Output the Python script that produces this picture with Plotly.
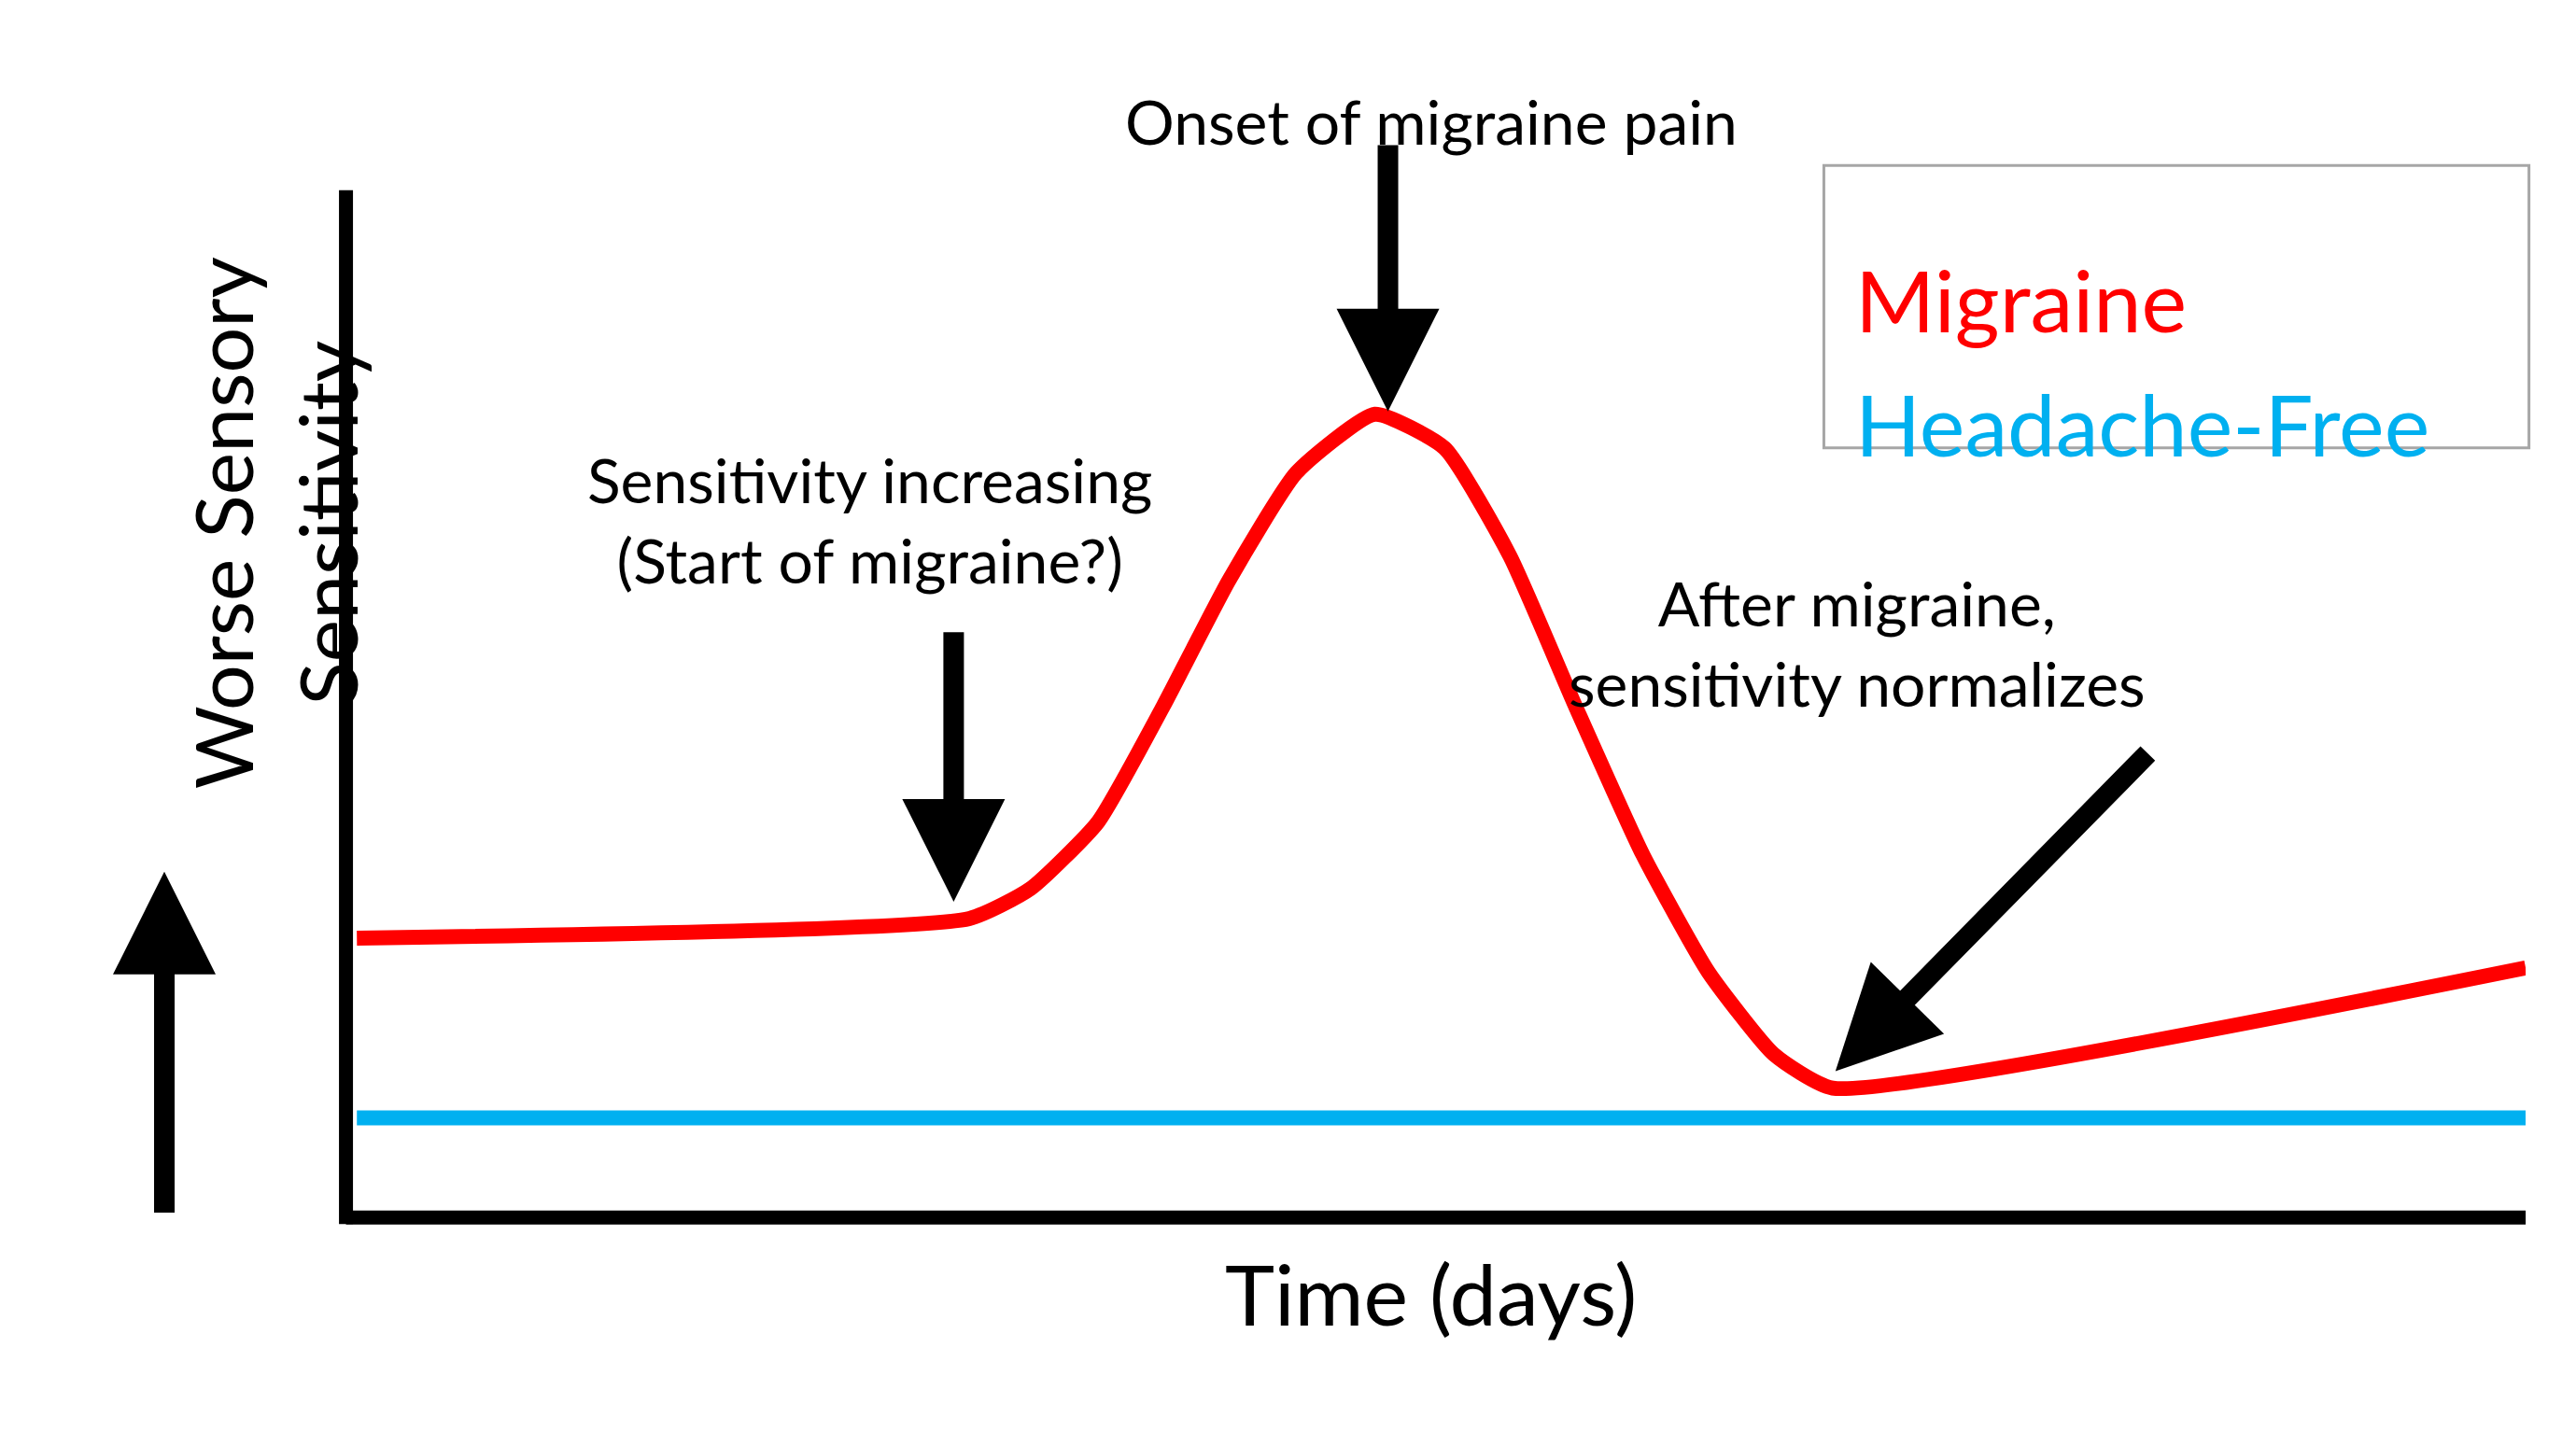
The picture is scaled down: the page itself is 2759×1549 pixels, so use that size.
import plotly.graph_objects as go

# time (percent of axis) and sensitivity (percent of axis)
migraine_x = [0.5, 28.6, 31.4, 34.5, 37.5, 40.5, 43.6, 47.2, 50.4, 53.4, 56.4, 59.5, 62.5, 65.5, 68.2, 100]
migraine_y = [27.2, 29.1, 32.0, 38.5, 49.8, 62.0, 72.5, 78.2, 74.9, 64.4, 49.8, 35.3, 23.9, 15.9, 12.6, 24.3]
free_x = [0.5, 100]
free_y = [9.7, 9.7]

W, H = 1560, 870  # reference drawn at this scale


def px(x):
    return x / W


def py(y):
    return 1 - y / H


def dx(x):
    return (x - 205) / 1320


def dy(y):
    return (728 - y) / 618


FONT = "Lato"
fig = go.Figure()
fig.add_trace(go.Scatter(x=migraine_x, y=migraine_y, mode="lines",
                         line=dict(color="#ff0000", width=16, shape="spline", smoothing=0.5)))
fig.add_trace(go.Scatter(x=free_x, y=free_y, mode="lines",
                         line=dict(color="#00b0f0", width=16)))

fig.update_layout(
    width=2759, height=1549, margin=dict(l=0, r=0, t=0, b=0),
    plot_bgcolor="white", paper_bgcolor="white", showlegend=False,
    xaxis=dict(domain=[px(205), px(1525)], range=[0, 100], visible=False),
    yaxis=dict(domain=[py(728), py(110)], range=[0, 100], visible=False),
)

# axes
fig.add_shape(type="line", xref="paper", yref="paper", x0=px(205), x1=px(205), y0=py(110), y1=py(732),
              line=dict(color="black", width=15))
fig.add_shape(type="line", xref="paper", yref="paper", x0=px(205), x1=px(1525), y0=py(728), y1=py(728),
              line=dict(color="black", width=15))
# legend box
fig.add_shape(type="rect", xref="paper", yref="paper", x0=px(1100), x1=px(1527), y0=py(95), y1=py(265),
              line=dict(color="#a6a6a6", width=3))
fig.add_annotation(x=px(1118), y=py(143), xref="paper", yref="paper", xanchor="left", showarrow=False,
                   text="Migraine", font=dict(family=FONT, size=92, color="#ff0000"))
fig.add_annotation(x=px(1118), y=py(218), xref="paper", yref="paper", xanchor="left", showarrow=False,
                   text="Headache-Free", font=dict(family=FONT, size=92, color="#00b0f0"))

# texts
texts = [
    ("Onset of migraine pain", 862, 45),
    ("Sensitivity increasing<br>(Start of migraine?)", 522, 308),
    ("After migraine,<br>sensitivity normalizes", 1296, 382),
]
for t, x, y in texts:
    fig.add_annotation(x=px(x), y=py(y), xref="paper", yref="paper", showarrow=False, text=t,
                       font=dict(family=FONT, size=66, color="black"))
fig.add_annotation(x=px(862), y=py(805), xref="paper", yref="paper", showarrow=False, text="Time (days)",
                   font=dict(family=FONT, size=90, color="black"))
fig.add_annotation(x=px(100), y=py(310), xref="paper", yref="paper", showarrow=False, textangle=-90,
                   text="Worse Sensory<br>Sensitivity", font=dict(family=FONT, size=86, color="black"))

# arrows
arrows = [(573, 375, 573, 538), (836, 82, 836, 243), (1297, 448, 1107, 640), (95, 726, 95, 520)]
for x0, y0, x1, y1 in arrows:
    fig.add_annotation(x=dx(x1), y=dy(y1), ax=dx(x0), ay=dy(y0), xref="x domain", yref="y domain",
                       axref="x domain", ayref="y domain", showarrow=True, text="",
                       arrowhead=2, arrowsize=1.0, arrowwidth=22, arrowcolor="black")

fig.write_html("out.html")
